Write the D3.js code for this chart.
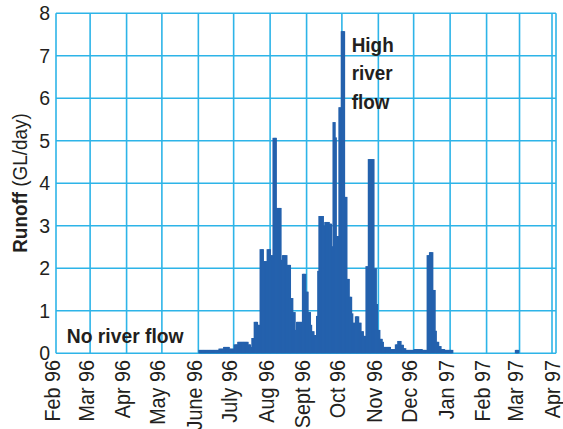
<!DOCTYPE html>
<html><head><meta charset="utf-8">
<script src="https://cdn.jsdelivr.net/npm/d3@7"></script>
<style>body{margin:0;background:#fff} svg{display:block}</style>
</head><body>
<svg id="c" width="563" height="429"></svg>
<script>
// ---- data ----
const monthLabels = ["Feb 96","Mar 96","Apr 96","May 96","June 96","July 96","Aug 96","Sept 96","Oct 96","Nov 96","Dec 96","Jan 97","Feb 97","Mar 97","Apr 97"];
const yTicks = [0,1,2,3,4,5,6,7,8];
const seasonStart = [1996, 5, 1]; // 1 June 1996
const juneRunoff = [0.08,0.08,0.08,0.08,0.08,0.08,0.08,0.08,0.08,0.08,0.08,0.08,0.08,0.08,0.08,0.08,0.08,
  0.11,0.11,0.11,0.11,0.15,0.15,0.15,0.15,0.15,0.11,0.11,0.11,0.11];
const julyRunoff = [0.21,0.21,0.21,0.27,0.27,0.27,0.27,0.27,0.27,0.27,0.27,0.27,0.21,0.21,0.15,0.36,0.36,
  0.74,0.74,0.74,0.67,0.67,2.45,2.45,2.45,2.17,2.17,2.17,2.45,2.45,2.45];
const augRunoff = [2.31,2.31,5.07,5.07,5.07,3.42,3.42,3.42,3.42,2.2,2.31,2.31,2.31,2.31,2.08,2.08,2.08,
  1.3,1.3,0.97,0.97,0.55,0.74,0.74,0.74,0.74,0.74,1.87,1.87,1.87,1.45];
const sepRunoff = [1.45,0.97,0.97,0.67,0.52,0.52,0.43,0.43,0.88,1.94,3.23,3.23,3.23,3.23,3.0,3.09,3.09,3.09,3.09,
  3.05,3.05,2.52,5.44,5.44,5.08,2.76,2.76,5.79,5.79,7.58];
const octRunoff = [7.58,7.58,3.68,3.68,1.75,1.75,1.33,1.33,0.94,0.72,0.72,0.87,0.87,0.87,0.72,0.72,0.52,0.52,
  0.41,0.41,2.05,2.05,4.57,4.57,4.57,4.57,4.57,2.0,2.0,1.16,0.55];
const novRunoff = [0.55,0.34,0.34,0.27,0.15,0.15,0.15,0.15,0.15,0.15,0.1,0.1,0.1,0.1,0.21,0.21,0.29,0.29,0.29,
  0.2,0.2,0.12,0.12,0.08,0.08,0.08,0.08,0.08,0.08,0.08];
const decRunoff = [0.1,0.1,0.1,0.1,0.1,0.1,0.1,0.08,0.08,0.08,0.08,2.31,2.31,2.38,2.38,2.38,1.49,1.49,0.53,
  0.27,0.27,0.17,0.17,0.1,0.1,0.1,0.08,0.08,0.08,0.08,0.08];
const janRunoff = [0.08,0.08];
const lateStart = [1997, 1, 25]; // 25 Feb 1997
const lateRunoff = [0.08,0.08,0.08];

// ---- chart ----
const svg = d3.select("#c");
const gridColor = "#2db4e8", barColor = "#2461ad", textColor = "#231f20";
const font = "'Liberation Sans', Arial, Helvetica, sans-serif";

const domainStart = new Date(1996,1,1), domainEnd = new Date(1997,3,1);
const x = d3.scaleTime().domain([domainStart, domainEnd]).range([56,556]);
const y = d3.scaleLinear().domain([0,8]).range([353.3,13.3]);
const months = d3.timeMonth.range(domainStart, d3.timeDay.offset(domainEnd,1));

const grid = svg.append("g").attr("stroke", gridColor).attr("stroke-width",1.6).attr("fill","none");
grid.selectAll("line.h").data(yTicks).join("line").attr("class","h")
  .attr("x1", x(domainStart)).attr("x2", x(domainEnd)).attr("y1", d=>y(d)).attr("y2", d=>y(d));
grid.selectAll("line.v").data(months).join("line").attr("class","v")
  .attr("x1", d=>x(d)).attr("x2", d=>x(d)).attr("y1", y(0)).attr("y2", y(8));
grid.append("line").attr("x1", x(domainEnd)-4).attr("x2", x(domainEnd)-4).attr("y1", y(0)).attr("y2", y(8));

function series(start, vals){
  const s = new Date(start[0], start[1], start[2]);
  return vals.map((v,i)=>({d: d3.timeDay.offset(s,i), v}));
}
const mainVals = [].concat(juneRunoff, julyRunoff, augRunoff, sepRunoff, octRunoff, novRunoff, decRunoff, janRunoff);
const bars = series(seasonStart, mainVals).concat(series(lateStart, lateRunoff));

svg.append("g").attr("fill", barColor).selectAll("rect").data(bars).join("rect")
  .attr("x", d=>x(d.d))
  .attr("width", d=>x(d3.timeDay.offset(d.d,1)) - x(d.d) + 0.9)
  .attr("y", d=>y(d.v))
  .attr("height", d=>y(0)-y(d.v));

// y tick labels
svg.append("g").selectAll("text").data(yTicks).join("text")
  .attr("x", 50).attr("y", d=>y(d)).attr("dy","0.36em")
  .attr("text-anchor","end").attr("font-family", font).attr("font-size", 19.5).attr("fill", textColor)
  .text(d=>d);

// x tick labels
svg.append("g").selectAll("text").data(months).join("text")
  .attr("transform", d=>`translate(${x(d)+3.5},360) rotate(-90) scale(0.9,1)`)
  .attr("text-anchor","end").attr("font-family", font).attr("font-size", 22).attr("fill", textColor)
  .text((d,i)=>monthLabels[i]);

// y title
const yt = svg.append("text").attr("transform","translate(27,183) rotate(-90) scale(0.9,1)")
  .attr("text-anchor","middle").attr("font-family", font).attr("font-size", 21).attr("fill", textColor);
yt.append("tspan").attr("font-weight","bold").text("Runoff");
yt.append("tspan").text(" (GL/day)");

// annotations
svg.append("text").attr("transform","translate(66.7,343.3) scale(0.92,1)")
  .attr("font-family", font).attr("font-size", 21).attr("font-weight","bold").attr("fill", textColor)
  .text("No river flow");
const hi = svg.append("text").attr("transform","translate(351.7,51.7) scale(0.9,1)")
  .attr("font-family", font).attr("font-size", 21).attr("font-weight","bold").attr("fill", textColor);
["High","river","flow"].forEach((t,i)=>hi.append("tspan").attr("x",0).attr("dy", i?28.5:0).text(t));
</script>
</body></html>
